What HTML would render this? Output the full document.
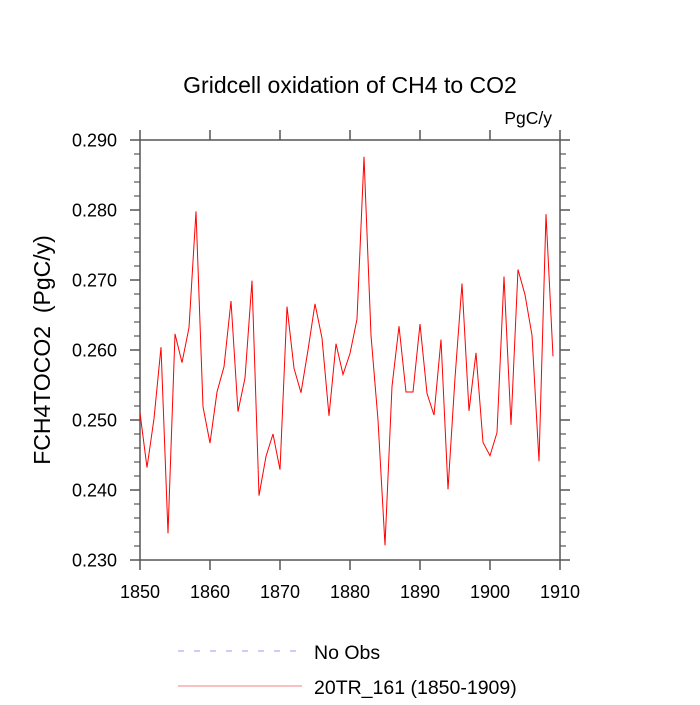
<!DOCTYPE html>
<html><head><meta charset="utf-8"><style>
body{margin:0;background:#fff}
svg text{font-family:"Liberation Sans",sans-serif;fill:#000}
</style></head><body>
<svg id="chart" width="700" height="700" viewBox="0 0 700 700">
<text x="350" y="93" font-size="23" text-anchor="middle">Gridcell oxidation of CH4 to CO2</text>
<text x="552" y="124" font-size="17.5" text-anchor="end">PgC/y</text>
<text transform="translate(50,350) rotate(-90)" font-size="23" text-anchor="middle" xml:space="preserve">FCH4TOCO2  (PgC/y)</text>
<g id="axes"></g>
<polyline id="series" fill="none" stroke="#ff0000" stroke-width="1"/>
<line x1="178" y1="651" x2="296" y2="651" stroke="#9a9aff" stroke-width="1" stroke-dasharray="6,10"/>
<text x="314" y="659" font-size="19.5">No Obs</text>
<line x1="178" y1="686" x2="302" y2="686" stroke="#f08080" stroke-width="1"/>
<text x="314" y="694" font-size="19.5">20TR_161 (1850-1909)</text>
</svg>
<script>
const years=[1850,1851,1852,1853,1854,1855,1856,1857,1858,1859,1860,1861,1862,1863,1864,1865,1866,1867,1868,1869,1870,1871,1872,1873,1874,1875,1876,1877,1878,1879,1880,1881,1882,1883,1884,1885,1886,1887,1888,1889,1890,1891,1892,1893,1894,1895,1896,1897,1898,1899,1900,1901,1902,1903,1904,1905,1906,1907,1908,1909];
const values=[0.2510,0.2432,0.2502,0.2604,0.2338,0.2623,0.2582,0.2632,0.2798,0.2519,0.2467,0.2540,0.2576,0.2670,0.2512,0.2560,0.2699,0.2392,0.2448,0.2480,0.2429,0.2662,0.2574,0.2539,0.2600,0.2666,0.2617,0.2506,0.2609,0.2565,0.2595,0.2644,0.2876,0.2621,0.2500,0.2321,0.2548,0.2634,0.2540,0.2540,0.2637,0.2538,0.2507,0.2615,0.2401,0.2560,0.2695,0.2513,0.2596,0.2468,0.2449,0.2482,0.2705,0.2493,0.2715,0.2679,0.2621,0.2441,0.2794,0.2591];
const xTicks=[1850,1860,1870,1880,1890,1900,1910];
const yTicks=["0.230","0.240","0.250","0.260","0.270","0.280","0.290"];
const L=140,R=560,T=140,B=560,X0=1850,X1=1910,Y0=0.230,Y1=0.290;
const sx=v=>L+(v-X0)/(X1-X0)*(R-L);
const sy=v=>B-(v-Y0)/(Y1-Y0)*(B-T);
const NS="http://www.w3.org/2000/svg";
const ax=document.getElementById('axes');
function mk(tag,attrs,parent){const e=document.createElementNS(NS,tag);for(const k in attrs)e.setAttribute(k,attrs[k]);(parent||ax).appendChild(e);return e;}
const frame=mk('rect',{x:L,y:T,width:R-L,height:B-T,fill:'none',stroke:'#555','stroke-width':1.5});


xTicks.forEach(t=>{const x=sx(t);
 mk('line',{x1:x,y1:B,x2:x,y2:B+10,stroke:'#555','stroke-width':1.5});
 mk('line',{x1:x,y1:T,x2:x,y2:T-10,stroke:'#555','stroke-width':1.5});
 const tx=mk('text',{x:x,y:B+38,'font-size':18,'text-anchor':'middle'});tx.textContent=t;
 
 
});
for(let i=0;i<=30;i++){const v=Y0+i*0.002;const y=sy(v);const major=i%5===0;const len=major?10:6;
 mk('line',{x1:L,y1:y,x2:L-len,y2:y,stroke:'#555','stroke-width':major?1.5:1.2});
 mk('line',{x1:R,y1:y,x2:R+len,y2:y,stroke:'#555','stroke-width':major?1.5:1.2});
}
yTicks.forEach(t=>{const y=sy(parseFloat(t));
 const tx=mk('text',{x:L-23,y:y+6.5,'font-size':18,'text-anchor':'end'});tx.textContent=t;
 
 
});
document.getElementById('series').setAttribute('points',years.map((yr,i)=>sx(yr)+','+sy(values[i])).join(' '));
</script>
</body></html>
